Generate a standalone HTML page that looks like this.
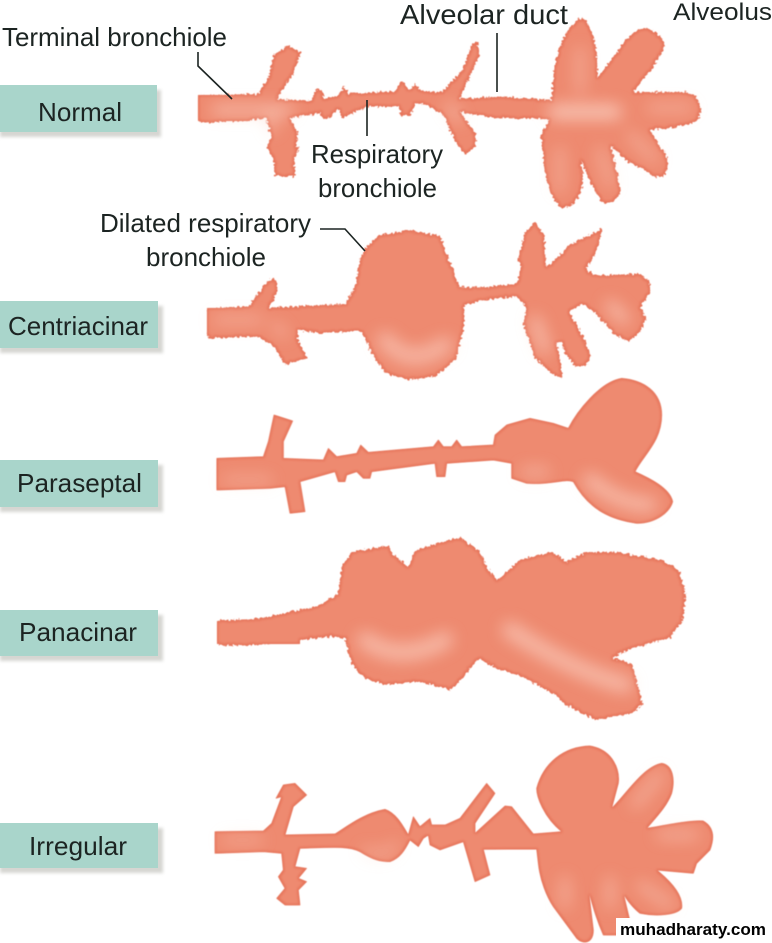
<!DOCTYPE html>
<html><head><meta charset="utf-8"><style>
html,body{margin:0;padding:0;background:#fff}
svg{display:block}
text{font-family:"Liberation Sans",sans-serif;font-size:26px;fill:#1c2422}
</style></head><body>
<svg width="772" height="943" viewBox="0 0 772 943" xmlns="http://www.w3.org/2000/svg">
<defs>
<filter id="rim" x="0" y="0" width="772" height="943" filterUnits="userSpaceOnUse" color-interpolation-filters="sRGB">
<feGaussianBlur in="SourceAlpha" stdDeviation=".5" result="d"/>
<feFlood flood-color="#e6745a"/><feComposite in2="d" operator="in" result="base"/>
<feMorphology in="SourceAlpha" operator="erode" radius="1.5"/><feGaussianBlur stdDeviation="1.3" result="in"/>
<feFlood flood-color="#ee8a70"/><feComposite in2="in" operator="in" result="inner"/>
<feMerge><feMergeNode in="base"/><feMergeNode in="inner"/></feMerge>
</filter>
<filter id="rough" x="0" y="0" width="772" height="943" filterUnits="userSpaceOnUse" color-interpolation-filters="sRGB">
<feTurbulence type="fractalNoise" baseFrequency=".4" numOctaves="1" seed="7" result="n"/>
<feDisplacementMap in="SourceGraphic" in2="n" scale="6" xChannelSelector="R" yChannelSelector="G"/>
</filter>
<filter id="s" x="0" y="0" width="772" height="943" filterUnits="userSpaceOnUse"><feGaussianBlur stdDeviation="8"/></filter>
<filter id="t" x="0" y="0" width="772" height="943" filterUnits="userSpaceOnUse"><feGaussianBlur stdDeviation="1.5"/></filter>
</defs>
<rect width="772" height="943" fill="#fff"/>

<g fill="#d6d6d2" filter="url(#t)">
<rect x="0" y="90" width="161" height="47"/><rect x="0" y="306" width="163" height="47"/><rect x="0" y="465" width="163" height="47"/><rect x="0" y="615" width="163" height="46"/><rect x="0" y="828" width="163" height="45"/>
</g>
<g fill="#a9d5cb">
<rect x="0" y="85" width="157" height="47"/><rect x="0" y="301" width="158" height="47"/><rect x="0" y="460" width="158" height="47"/><rect x="0" y="610" width="158" height="46"/><rect x="0" y="823" width="158" height="45"/>
</g>

<g filter="url(#rim)">
<g filter="url(#rough)" stroke="#000" stroke-linejoin="round">
<g transform="translate(2,1)">
<!-- Normal -->
<path transform="translate(190,10) scale(.33333)" stroke-width="3" d="M25,255 L200,250 L235,190 L245,135 L285,105 L325,125 L300,190 L250,265 L360,272 L372,235 L390,240 L395,265 L440,255 L455,230 L470,250 L610,242 L630,210 L650,240 L670,220 L685,240 L750,245 L815,175 L840,100 L855,95 L860,135 L800,265 L920,258 L1080,268 C1085,120 1120,50 1170,20 C1210,60 1215,120 1215,205 L1250,160 L1300,90 C1330,60 1350,50 1365,52 C1400,70 1425,90 1410,120 L1380,170 L1320,245 L1480,245 C1520,250 1530,290 1520,320 C1500,345 1430,350 1370,355 L1425,440 C1430,480 1420,500 1390,495 L1300,445 L1255,400 L1285,540 C1275,570 1250,580 1235,575 C1210,545 1180,480 1165,430 L1172,510 C1165,560 1140,590 1110,590 C1075,560 1055,500 1050,370 L1075,322 L910,320 L800,300 L850,370 L850,405 L820,428 L790,390 L755,310 L700,280 L670,275 L655,310 L630,315 L620,285 L530,285 L470,310 L450,320 L440,285 L415,320 L395,320 L385,305 L290,320 L315,365 L310,410 L320,410 L305,440 L310,495 L250,495 L245,440 L225,405 L240,380 L225,320 L180,325 L25,335 Z"/>
<!-- Centriacinar -->
<path transform="translate(200,215) scale(.33333)" stroke-width="3" d="M20,280 L140,272 C165,250 185,195 212,190 C235,195 225,240 198,277 L300,272 L430,265 L460,215 L475,130 L490,100 L530,60 L620,45 L715,60 L730,110 L755,170 L770,215 L850,215 L945,205 L960,150 L950,130 L970,50 L1000,20 L1025,60 L1030,155 L1070,125 L1100,90 L1200,40 L1180,110 L1150,160 L1180,180 L1310,175 L1340,195 L1345,225 L1315,270 L1330,310 L1310,350 L1280,375 L1240,355 L1180,290 L1140,260 L1100,285 L1135,350 L1165,420 L1150,450 L1120,450 L1090,410 L1080,375 L1060,380 L1070,420 L1080,485 L1050,470 L1000,425 L965,325 L975,270 L945,240 L850,250 L785,265 C785,300 785,330 780,350 L760,430 L700,480 L620,490 L550,470 L510,410 L480,345 L440,345 L350,350 L285,340 L285,370 L315,425 L250,445 L215,390 L170,360 L20,365 Z"/>
<!-- Panacinar -->
<path transform="translate(200,530) scale(.33333)" stroke-width="3" d="M50,270 L170,265 L350,225 L410,190 L420,110 L450,65 L560,45 L570,70 L620,110 L640,60 L770,20 L830,60 L855,110 L885,150 L960,85 L1050,65 L1095,95 L1150,65 L1250,65 L1380,90 L1430,120 L1450,190 L1440,270 L1400,320 L1290,350 L1225,380 L1290,400 L1320,520 L1290,545 L1180,565 L1090,520 L1060,490 L950,430 L880,410 L830,380 L780,440 L745,475 L650,450 L550,460 L490,440 L450,400 L430,320 L390,315 L170,340 L50,342 Z"/>
</g>
</g>
<path d="M198 95H250V121H198ZM207 308H250V336H207ZM217 621H300V644H217Z"/>
<!-- Paraseptal -->
<path transform="translate(200,215) scale(.33333)" stroke="#000" stroke-width="2" stroke-linejoin="round" d="M50,730 L190,725 L205,680 L222,600 L278,618 L250,680 L250,730 L370,735 L385,700 L410,725 L470,715 L482,690 L505,712 L700,695 L715,675 L730,695 L755,695 L770,675 L785,695 L880,690 L885,660 L920,630 L990,610 L1060,625 L1105,640 C1130,590 1200,500 1265,490 C1330,495 1385,530 1385,600 C1385,680 1330,720 1305,770 C1350,790 1410,820 1418,860 C1410,890 1370,925 1310,925 C1240,915 1170,890 1120,800 C1090,790 1060,810 980,805 L935,790 L935,745 L880,735 L740,745 L735,785 L710,785 L705,745 L515,770 L510,790 L490,790 L470,770 L440,780 L435,800 L415,800 L405,770 L300,800 L315,890 L270,895 L255,815 L210,820 L50,825 Z"/>
<!-- Irregular -->
<path transform="translate(200,530) scale(.33333)" stroke="#000" stroke-width="2" stroke-linejoin="round" d="M45,905 L190,903 L215,880 L245,800 L228,805 L250,765 L285,760 L320,795 L280,830 L255,915 L405,912 C440,890 490,850 555,838 C590,850 610,890 625,915 L640,860 L660,890 L690,865 L695,885 L735,885 L780,865 L860,760 L885,790 L825,880 L825,910 L915,828 L935,830 L1000,912 L1085,905 C1030,860 1010,800 1010,775 C1030,700 1090,650 1170,648 C1240,660 1260,720 1255,760 L1235,835 C1280,790 1330,710 1385,700 C1420,705 1425,750 1415,790 C1400,830 1370,860 1340,895 C1400,885 1470,870 1510,873 C1540,890 1545,920 1530,960 L1490,1000 L1480,1030 L1370,1020 C1420,1060 1450,1100 1445,1135 C1430,1155 1370,1160 1320,1150 C1300,1135 1280,1110 1270,1090 L1300,1215 L1210,1215 C1190,1170 1175,1120 1165,1075 L1180,1200 C1180,1240 1150,1245 1130,1225 L1060,1130 C1040,1100 1020,1050 1015,1000 L1010,957 L850,958 L870,1035 L825,1055 L790,935 L720,960 L690,945 L685,915 L670,925 L655,950 L630,930 C615,960 600,985 570,995 C540,995 520,990 480,965 C450,950 420,950 300,955 L285,1010 L320,1015 L295,1045 L320,1055 L295,1080 L300,1125 L255,1125 L230,1105 L255,1075 L235,1040 L250,1020 L245,970 L190,965 L45,970 Z"/>
</g>

<!-- highlights -->
<g fill="none" stroke="#fcd6c8" stroke-linecap="round" filter="url(#s)" opacity=".8">
<path d="M215 110H290" stroke-width="8"/>
<path d="M272 112V130" stroke-width="6"/>
<path d="M448 105L460 120" stroke-width="6"/>
<path d="M555 112H615" stroke-width="14"/>
<path d="M580 50V90M690 108H650M560 150V190M600 150L610 185M630 135L655 160" stroke-width="7" opacity=".7"/>
<path d="M385 340Q410 370 445 345" stroke-width="16" opacity=".75"/>
<path d="M215 320H260M275 325L285 335" stroke-width="6" opacity=".8"/>
<path d="M535 320L545 350M610 305L625 320" stroke-width="9"/>
<path d="M590 480Q620 505 650 505" stroke-width="14" opacity=".8"/>
<path d="M525 472H545" stroke-width="10" opacity=".6"/>
<path d="M225 480H270" stroke-width="6" opacity=".7"/>
<path d="M365 640Q400 665 445 640M510 630Q570 670 625 685" stroke-width="16" opacity=".8"/>
<path d="M660 775L635 805M695 835H660M670 905L640 885M610 905V880M565 905V880" stroke-width="8" opacity=".7"/>
<path d="M365 850Q385 860 395 845M225 840H260" stroke-width="7" opacity=".6"/>
</g>

<g fill="none" stroke="#1c2422" stroke-width="1.6">
<path d="M198 52V66L232 99"/>
<path d="M497 33V92"/>
<path d="M367 100V136"/>
<path d="M320 229H345L365 251"/>
</g>

<text x="2" y="46" textLength="225" lengthAdjust="spacingAndGlyphs">Terminal bronchiole</text>
<text x="400" y="24" textLength="168" lengthAdjust="spacingAndGlyphs" style="font-size:28px">Alveolar duct</text>
<text x="673" y="20" textLength="99" lengthAdjust="spacingAndGlyphs" style="font-size:24px">Alveolus</text>
<text x="311" y="163" textLength="132" lengthAdjust="spacingAndGlyphs">Respiratory</text>
<text x="318" y="197" textLength="119" lengthAdjust="spacingAndGlyphs">bronchiole</text>
<text x="100" y="232" textLength="211" lengthAdjust="spacingAndGlyphs">Dilated respiratory</text>
<text x="146" y="266" textLength="120" lengthAdjust="spacingAndGlyphs">bronchiole</text>
<text x="38" y="121" textLength="84" lengthAdjust="spacingAndGlyphs">Normal</text>
<text x="8" y="335" textLength="140" lengthAdjust="spacingAndGlyphs">Centriacinar</text>
<text x="17" y="492" textLength="125" lengthAdjust="spacingAndGlyphs">Paraseptal</text>
<text x="19" y="641" textLength="118" lengthAdjust="spacingAndGlyphs">Panacinar</text>
<text x="29" y="855" textLength="98" lengthAdjust="spacingAndGlyphs">Irregular</text>

<rect x="616" y="918" width="156" height="25" fill="#fff"/>
<text x="620" y="935" textLength="146" lengthAdjust="spacingAndGlyphs" style="font-size:17px;font-weight:bold;fill:#000">muhadharaty.com</text>
</svg>
</body></html>
